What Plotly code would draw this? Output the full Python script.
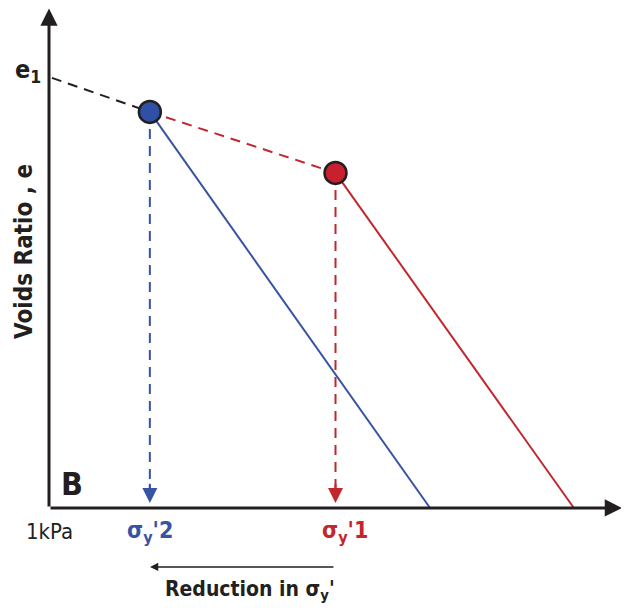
import plotly.graph_objects as go

# ---- data (schematic e - log sigma' diagram) ----
e1 = 1.5                      # void ratio intercept at 1 kPa
yield_x = [1.76, 5.0]         # log-stress positions of sigma_y'2 (blue), sigma_y'1 (red)
yield_e = [1.378, 1.166]      # void ratio at yield points
ncl_end_x = [6.65, 9.16]      # where the compression lines meet e = 0
x_axis_max = 10.0
y_axis_max = 1.738

BLUE = "#3953a4"
RED = "#c1272d"
BLUE_FILL = "#2f50a6"
RED_FILL = "#c8202f"
BLACK = "#231f20"
FONT = "DejaVu Sans Condensed, Liberation Sans Narrow, Roboto, sans-serif"

fig = go.Figure()

# black dashed recompression part from e1 to blue point
fig.add_trace(go.Scatter(x=[0.05, yield_x[0]], y=[e1 - 0.05 * (e1 - yield_e[0]) / yield_x[0], yield_e[0]],
                         mode="lines", line=dict(color=BLACK, width=2, dash="10px,7px"),
                         hoverinfo="skip", showlegend=False))
# red dashed between yield points
fig.add_trace(go.Scatter(x=yield_x, y=yield_e, mode="lines",
                         line=dict(color=RED, width=2, dash="10px,7px"),
                         hoverinfo="skip", showlegend=False))
# compression lines
for xs, es, xe, c in zip(yield_x, yield_e, ncl_end_x, [BLUE, RED]):
    fig.add_trace(go.Scatter(x=[xs, xe], y=[es, 0], mode="lines",
                             line=dict(color=c, width=2), hoverinfo="skip", showlegend=False))
# vertical dashed drop lines
for xs, es, c in zip(yield_x, yield_e, [BLUE, RED]):
    fig.add_trace(go.Scatter(x=[xs, xs], y=[es, 0.06], mode="lines",
                             line=dict(color=c, width=2, dash="10px,7px"),
                             hoverinfo="skip", showlegend=False))

# yield points
fig.add_trace(go.Scatter(x=yield_x, y=yield_e, mode="markers",
                         marker=dict(size=22, color=[BLUE_FILL, RED_FILL],
                                     line=dict(color=BLACK, width=2.5)),
                         hoverinfo="skip", showlegend=False))

ann = []
# axes arrows
ann.append(dict(x=x_axis_max, y=0, ax=0, ay=0, xref="x", yref="y", axref="x", ayref="y",
                showarrow=True, arrowhead=2, arrowwidth=3, arrowsize=1.15, arrowcolor=BLACK, text=""))
ann.append(dict(x=0, y=y_axis_max, ax=0, ay=0, xref="x", yref="y", axref="x", ayref="y",
                showarrow=True, arrowhead=2, arrowwidth=3, arrowsize=1.15, arrowcolor=BLACK, text=""))
# drop-line arrowheads
for xs, c in zip(yield_x, [BLUE, RED]):
    ann.append(dict(x=xs, y=0.017, ax=xs, ay=0.09, xref="x", yref="y", axref="x", ayref="y",
                    showarrow=True, arrowhead=2, arrowwidth=2, arrowsize=1.5, arrowcolor=c, text=""))
# reduction arrow
ann.append(dict(x=1.763, y=-0.205, ax=4.99, ay=-0.205, xref="x", yref="y", axref="x", ayref="y",
                showarrow=True, arrowhead=2, arrowwidth=1.5, arrowsize=1.1, arrowcolor=BLACK, text=""))

# texts
def txt(x, y, s, size, color=BLACK, bold=True, **kw):
    d = dict(x=x, y=y, xref="x", yref="y", text=(f"<b>{s}</b>" if bold else s), showarrow=False,
             font=dict(family=FONT, size=size, color=color))
    d.update(kw)
    ann.append(d)

txt(-0.105, 1.522, "e<sub>1</sub>", 25, xanchor="right", yanchor="middle")
txt(-0.436, 0.891, "Voids Ratio , e", 24, textangle=-90)
txt(0.40, 0.0835, "B", 32)
txt(0.0, -0.0835, "1kPa", 22, bold=False)
txt(yield_x[0], -0.085, "σ<sub>y</sub>'2", 23, color=BLUE)
txt(5.166, -0.085, "σ<sub>y</sub>'1", 23, color=RED)
txt(3.51, -0.287, "Reduction in σ<sub>y</sub>'", 21)

# page body has an 8px margin, so the figure is shifted; ranges compensate
fig.update_layout(
    width=621, height=608,
    margin=dict(l=0, r=0, t=0, b=0),
    paper_bgcolor="white", plot_bgcolor="white",
    xaxis=dict(range=[-0.7155, 10.122], visible=False, showgrid=False, zeroline=False, fixedrange=True),
    yaxis=dict(range=[-0.3758, 1.7397], visible=False, showgrid=False, zeroline=False, fixedrange=True),
    annotations=ann,
    showlegend=False,
)

fig.write_html("out.html")
